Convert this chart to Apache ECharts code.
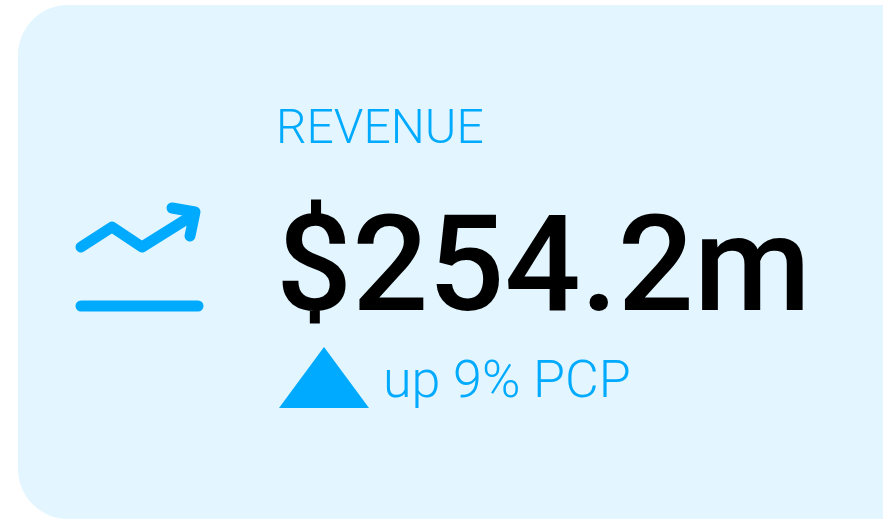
<!DOCTYPE html>
<html>
<head>
<meta charset="utf-8">
<style>html,body{margin:0;padding:0;background:#fff}#main{width:883px;height:519px}</style>
<script src="https://cdn.jsdelivr.net/npm/echarts@6/dist/echarts.min.js"></script>
</head>
<body>
<div id="main"></div>
<script>
var kpiLabel = 'REVENUE';
var kpiValue = '$254.2m';
var kpiChange = 'up 9% PCP';

var chart = echarts.init(document.getElementById('main'), null, { renderer: 'canvas' });
var blue = '#00aaff';

var option = {
	animation: false,
	graphic: [
		{ type: 'rect', shape: { x: 18, y: 5, width: 920, height: 514, r: 50 }, style: { fill: '#e3f6ff' } },
		{ type: 'polyline', shape: { points: [[81, 247], [112, 227], [142, 247], [190, 217]] },
			style: { stroke: blue, lineWidth: 11, fill: null, lineCap: 'round', lineJoin: 'round' } },
		{ type: 'polyline', shape: { points: [[172, 208], [195, 212], [190, 236]] },
			style: { stroke: blue, lineWidth: 11, fill: null, lineCap: 'round', lineJoin: 'round' } },
		{ type: 'line', shape: { x1: 81, y1: 306, x2: 198, y2: 306 },
			style: { stroke: blue, lineWidth: 11, lineCap: 'round' } },
		{ type: 'polygon', shape: { points: [[279, 408], [324, 347], [369, 408]] }, style: { fill: blue } },
		{ type: 'text', x: 276, y: 131, style: { text: kpiLabel, fill: blue, font: '300 48px Roboto', verticalAlign: 'middle' } },
		{ type: 'text', x: 276, y: 276, style: { text: kpiValue, fill: '#000', font: '500 134px Roboto', verticalAlign: 'middle' } },
		{ type: 'text', x: 383, y: 384, style: { text: kpiChange, fill: blue, font: '300 52px Roboto', verticalAlign: 'middle' } }
	]
};
chart.setOption(option);
</script>
</body>
</html>
